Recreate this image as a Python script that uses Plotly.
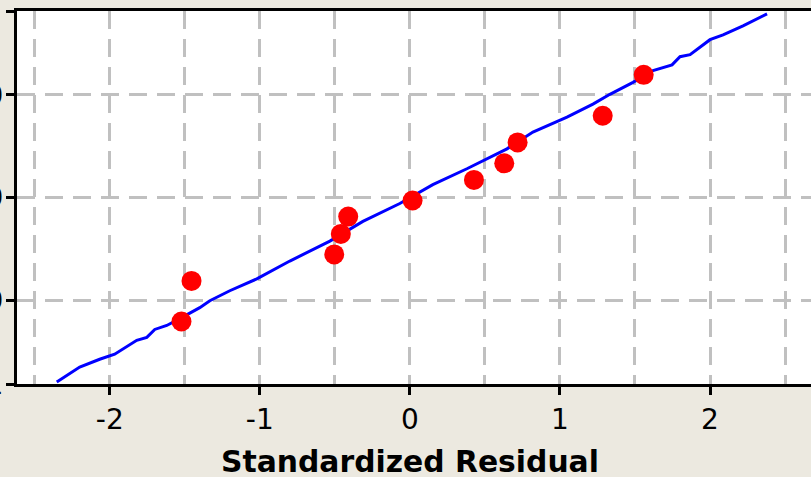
from statistics import NormalDist
import plotly.graph_objects as go

# Fitted line (standardized residual, percent)
line_x = [-2.353, -2.2, -2.067, -1.967, -1.82, -1.753, -1.7, -1.62, -1.533, -1.4,
          -1.333, -1.2, -1.02, -0.8, -0.533, -0.313, -0.067, 0.153, 0.38, 0.647,
          0.82, 1.047, 1.22, 1.333, 1.487, 1.62, 1.747, 1.8, 1.867, 2.0,
          2.087, 2.22, 2.38]
line_pct = [1.07, 1.72, 2.18, 2.53, 3.74, 4.05, 4.99, 5.52, 6.55, 8.47,
            9.90, 12.24, 15.5, 21.4, 29.3, 38.3, 47.0, 56.4, 64.0, 72.8,
            79.3, 84.2, 87.8, 90.1, 92.45, 94.34, 95.1, 96.05, 96.26, 97.55,
            97.88, 98.39, 98.9]

# Observed standardized residuals and their percents
resid_x = [-1.522, -1.455, -0.504, -0.46, -0.411, 0.018, 0.427, 0.629, 0.718, 1.285, 1.558]
resid_pct = [6.1, 14.9, 23.9, 32.5, 40.6, 48.5, 58.7, 66.5, 75.4, 84.6, 93.7]

y_tick_pct = [1, 10, 50, 90, 99]
y_tick_text = ["1", "10", "50", "90", "99"]
x_tick_vals = [-2, -1, 0, 1, 2]

nd = NormalDist()
def z(p):
    return nd.inv_cdf(p / 100.0)

BG = "#ECE9E0"
GRID = "#C0C0C0"
FONT = "DejaVu Sans"

fig = go.Figure()
fig.add_trace(go.Scatter(x=line_x, y=[z(p) for p in line_pct], mode="lines",
                         line=dict(color="#0000FF", width=3), hoverinfo="skip"))
fig.add_trace(go.Scatter(x=resid_x, y=[z(p) for p in resid_pct], mode="markers",
                         marker=dict(color="#FF0000", size=20, line=dict(width=0))))

fig.update_layout(
    width=811, height=477,
    paper_bgcolor=BG, plot_bgcolor="#FFFFFF",
    margin=dict(l=17, r=0, t=11, b=93, autoexpand=False),
    showlegend=False,
    font=dict(family=FONT, color="#000000"),
    annotations=[dict(text="<b>Standardized Residual</b>", x=0.0, xref="x",
                      y=-0.155, yref="paper", yanchor="top", xanchor="center",
                      showarrow=False, font=dict(family=FONT, size=29.8, color="#000000"))],
)
fig.update_xaxes(
    automargin=False,
    range=[-2.618, 2.673], tickvals=x_tick_vals, ticktext=["-2", "-1", "0", "1", "2"],
    ticks="outside", ticklen=8, tickwidth=3, tickcolor="#000000",
    tickfont=dict(family=FONT, size=28, color="#000000"),
    showline=True, linecolor="#000000", linewidth=3, mirror=True,
    showgrid=True, gridcolor=GRID, gridwidth=3, griddash="18px,10px",
    minor=dict(dtick=0.5, tick0=0, showgrid=True, gridcolor=GRID, gridwidth=3,
               griddash="18px,10px", ticks=""),
    zeroline=False,
)
fig.update_yaxes(
    automargin=False,
    range=[z(1), z(99)], tickvals=[z(p) for p in y_tick_pct], ticktext=y_tick_text,
    ticks="outside", ticklen=8, tickwidth=3, tickcolor="#000000",
    tickfont=dict(family=FONT, size=28, color="#000000"),
    ticklabelstandoff=-3,
    showline=True, linecolor="#000000", linewidth=3, mirror=False,
    showgrid=True, gridcolor=GRID, gridwidth=3, griddash="18px,10px",
    zeroline=False,
)

fig.write_html("out.html")
